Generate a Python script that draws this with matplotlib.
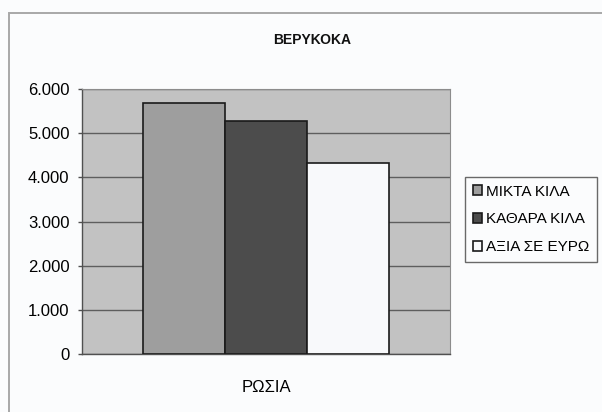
import matplotlib.pyplot as plt
from matplotlib.patches import Rectangle
from matplotlib.ticker import FuncFormatter

plt.rcParams['font.family'] = ['Liberation Sans', 'DejaVu Sans']

# Apricot exports to Russia
title = 'ΒΕΡΥΚΟΚΑ'
category = 'ΡΩΣΙΑ'
series_names = ['ΜΙΚΤΑ ΚΙΛΑ', 'ΚΑΘΑΡΑ ΚΙΛΑ', 'ΑΞΙΑ ΣΕ ΕΥΡΩ']
series_values = [5690, 5275, 4330]
bar_colors = ['#9e9e9e', '#4c4c4c', '#f8f9fb']

fig = plt.figure(figsize=(6.02, 4.12), dpi=100)
fig.patch.set_facecolor('#fbfcfd')

# chart frame (only left and top edges fall inside the canvas)
fig.patches.append(Rectangle((9 / 602, -0.1), 1.2, 1 - 13 / 412 + 0.1,
                             transform=fig.transFigure, fill=False,
                             edgecolor='#a8a8a8', linewidth=1.4))

ax = fig.add_axes([82 / 602, 58 / 412, 368 / 602, 265 / 412])
ax.set_facecolor('#c2c2c2')

width = 0.2228
offsets = [-width, 0, width]
for name, val, col, off in zip(series_names, series_values, bar_colors, offsets):
    ax.bar(off, val, width=width, color=col, edgecolor='#1a1a1a',
           linewidth=1.2, label=name, zorder=3)

ax.set_xlim(-0.5, 0.5)
ax.set_ylim(0, 6000)
ax.set_yticks(range(0, 6001, 1000))
ax.yaxis.set_major_formatter(FuncFormatter(
    lambda v, p: '0' if v == 0 else f'{int(v):,}'.replace(',', '.')))
ax.set_xticks([0])
ax.set_xticklabels([category])
ax.tick_params(axis='x', length=0, pad=19, labelsize=12)
ax.tick_params(axis='y', length=3, width=1, color='#505050', pad=6, labelsize=12)

ax.grid(axis='y', color='#5e5e5e', linewidth=1, zorder=1)
for side in ['top', 'right']:
    ax.spines[side].set_color('#8c8c8c')
for side in ['left', 'bottom']:
    ax.spines[side].set_color('#505050')
    ax.spines[side].set_linewidth(1)

fig.text(312 / 602, 1 - 40 / 412, title, ha='center', va='center',
         fontsize=10, fontweight='bold', color='#111111')

leg = fig.legend(loc='upper left', bbox_to_anchor=(465 / 602, 1 - 177 / 412),
                 frameon=True, fancybox=False, fontsize=11,
                 handlelength=0.6, handleheight=0.6, handletextpad=0.3,
                 labelspacing=0.9, borderpad=0.5, borderaxespad=0)
leg.get_frame().set_edgecolor('#444444')
leg.get_frame().set_facecolor('#fbfcfd')
leg.get_frame().set_linewidth(1)

fig.savefig('out.png', dpi=100, facecolor=fig.get_facecolor())
